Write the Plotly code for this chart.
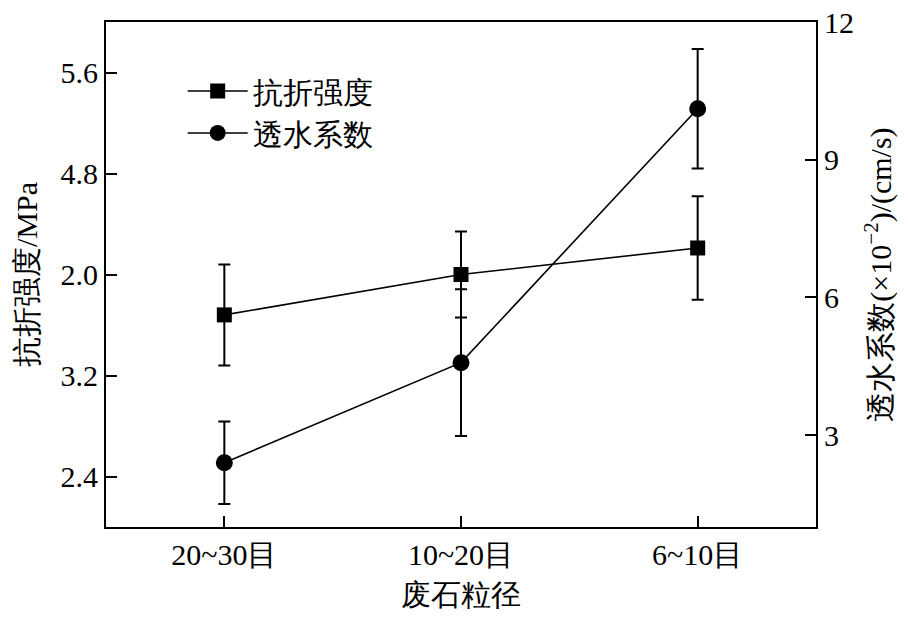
import plotly.graph_objects as go

# 废石粒径 categories
sizes = ["20~30目", "10~20目", "6~10目"]

# 抗折强度 (MPa), left axis
strength = [3.68, 4.00, 4.21]
strength_err = [0.40, 0.34, 0.41]

# 透水系数 (x10^-2 cm/s), right axis
perm = [2.40, 4.58, 10.11]
perm_err = [0.90, 1.60, 1.30]

# left axis tick labels as printed in the figure
left_tickvals = [2.4, 3.2, 4.0, 4.8, 5.6]
left_ticktext = ["2.4", "3.2", "2.0", "4.8", "5.6"]
right_tickvals = [3, 6, 9, 12]

FONT = "Liberation Serif"

fig = go.Figure()

fig.add_trace(go.Scatter(
    x=sizes, y=strength, name="抗折强度", mode="lines+markers",
    line=dict(color="black", width=1.6),
    marker=dict(symbol="square", size=15, color="black"),
    error_y=dict(type="data", array=strength_err, color="black",
                 thickness=2, width=6),
    yaxis="y",
))
fig.add_trace(go.Scatter(
    x=sizes, y=perm, name="透水系数", mode="lines+markers",
    line=dict(color="black", width=1.6),
    marker=dict(symbol="circle", size=17, color="black"),
    error_y=dict(type="data", array=perm_err, color="black",
                 thickness=2, width=6),
    yaxis="y2",
))

axis_common = dict(showline=True, linecolor="black", linewidth=2,
                   ticks="inside", ticklen=11, tickwidth=2, tickcolor="black",
                   showgrid=False, zeroline=False, automargin=False,
                   ticklabeloverflow="allow",
                   tickfont=dict(family=FONT, size=30, color="black"))

# the page body adds an 8 px offset, so margins are shifted to compensate
fig.update_layout(
    width=908, height=623,
    margin=dict(l=98, r=100, t=14, b=104, autoexpand=False),
    paper_bgcolor="white", plot_bgcolor="white",
    font=dict(family=FONT, size=30, color="black"),
    showlegend=True,
    legend=dict(x=0.108, y=0.915, xanchor="left", yanchor="top",
                bgcolor="rgba(0,0,0,0)", font=dict(size=30),
                itemwidth=60, tracegroupgap=0),
    xaxis=dict(**axis_common, range=[-0.5, 2.5], mirror=True,
               title=dict(text="废石粒径", standoff=14,
                          font=dict(size=30))),
    yaxis=dict(**axis_common, range=[2.0, 6.0],
               tickvals=left_tickvals, ticktext=left_ticktext,
               title=dict(text="抗折强度/MPa", standoff=14,
                          font=dict(size=30))),
    yaxis2=dict(**axis_common, range=[1, 12.0001], overlaying="y", side="right",
                tickvals=right_tickvals,
                title=dict(text="透水系数(×10<sup>−2</sup>)/(cm/s)", standoff=17,
                           font=dict(size=30))),
)

fig.write_html("out.html")
